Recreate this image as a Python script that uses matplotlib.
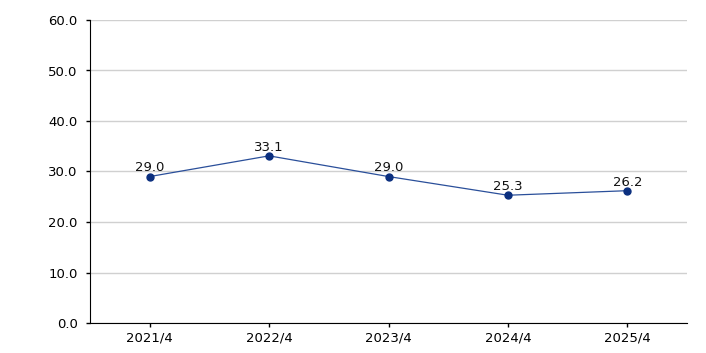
import matplotlib
matplotlib.use('Agg')
import matplotlib.pyplot as plt

periods = ["2021/4", "2022/4", "2023/4", "2024/4", "2025/4"]
values = [29.0, 33.1, 29.0, 25.3, 26.2]
y_ticks = [0, 10, 20, 30, 40, 50, 60]

plt.rcParams['font.family'] = ['DejaVu Sans']

fig = plt.figure(figsize=(7.06, 3.53), dpi=100)
ax = fig.add_axes([90 / 706, 30 / 353, 597 / 706, 303 / 353])

x = list(range(len(periods)))
ax.plot(x, values, color="#2a4f9a", linewidth=0.9, marker="o",
        markersize=5, markerfacecolor="#0b2f7f", markeredgecolor="#0b2f7f", zorder=3)
for xi, v in zip(x, values):
    ax.annotate(f"{v:.1f}", (xi, v), xytext=(0, 1.5), textcoords="offset points",
                ha="center", va="bottom", fontsize=9.5, color="#111111")

ax.set_xlim(-0.5, len(periods) - 0.5)
ax.set_ylim(0, 60)
ax.set_yticks(y_ticks)
ax.set_yticklabels([f"{t:.1f}" for t in y_ticks])
ax.set_xticks(x)
ax.set_xticklabels(periods)
ax.tick_params(axis="both", labelsize=9.5, length=3, width=1, color="black", direction="out")
ax.tick_params(axis="y", pad=6)
ax.tick_params(axis="x", pad=3)

ax.grid(axis="y", color="#d0d0d0", linewidth=1)
ax.set_axisbelow(True)
for s in ["top", "right"]:
    ax.spines[s].set_visible(False)
ax.spines["left"].set_color("black")
ax.spines["bottom"].set_color("black")

fig.savefig("out.png", dpi=100)
